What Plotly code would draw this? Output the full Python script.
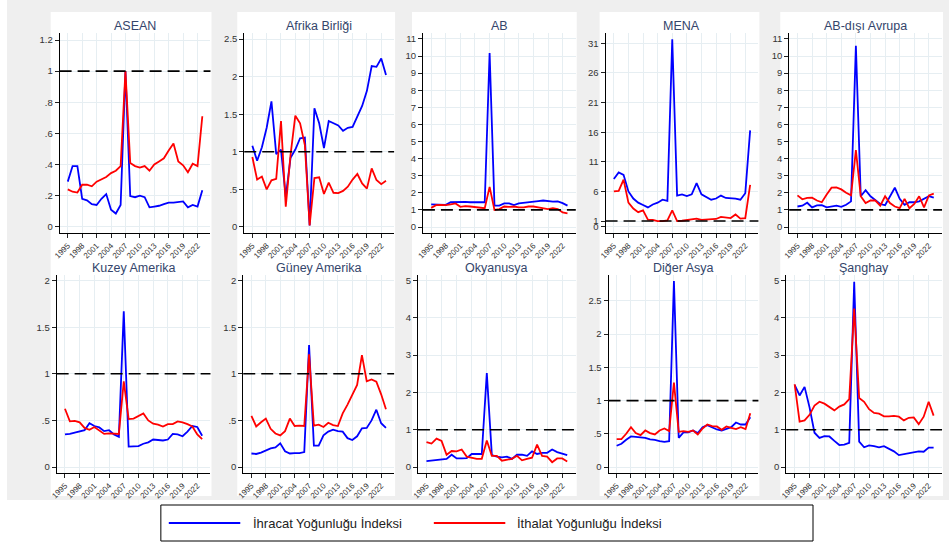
import plotly.graph_objects as go

W, H = 949, 555

years = list(range(1995, 2024))
x_tick_vals = [1995, 1998, 2001, 2004, 2007, 2010, 2013, 2016, 2019, 2022]
x_tick_text = [str(v) for v in x_tick_vals]

regions = ["ASEAN", "Afrika Birliği", "AB", "MENA", "AB-dışı Avrupa",
           "Kuzey Amerika", "Güney Amerika", "Okyanusya", "Diğer Asya", "Şanghay"]

series_names = ["İhracat Yoğunluğu İndeksi", "İthalat Yoğunluğu İndeksi"]

asean_ihracat = [0.29, 0.39, 0.39, 0.18, 0.17, 0.145, 0.14, 0.18, 0.21, 0.11, 0.085, 0.14, 1.0,
                 0.197, 0.19, 0.20, 0.19, 0.125, 0.13, 0.135, 0.145, 0.155, 0.155, 0.16, 0.163,
                 0.125, 0.14, 0.13, 0.235]
asean_ithalat = [0.24, 0.225, 0.22, 0.27, 0.27, 0.26, 0.29, 0.305, 0.32, 0.345, 0.36, 0.39, 1.0,
                 0.41, 0.39, 0.38, 0.39, 0.36, 0.40, 0.42, 0.44, 0.49, 0.535, 0.42, 0.395,
                 0.35, 0.405, 0.39, 0.71]

afrika_ihracat = [1.08, 0.88, 1.06, 1.32, 1.67, 0.97, 1.03, 0.40, 0.92, 1.03, 1.18, 1.19, 0.02,
                  1.58, 1.38, 1.05, 1.41, 1.38, 1.35, 1.28, 1.32, 1.33, 1.47, 1.61, 1.81,
                  2.14, 2.13, 2.24, 2.02]
afrika_ithalat = [0.93, 0.63, 0.67, 0.50, 0.62, 0.64, 1.41, 0.27, 0.96, 1.48, 1.38, 1.09, 0.02,
                  0.65, 0.66, 0.44, 0.59, 0.455, 0.45, 0.48, 0.535, 0.63, 0.705, 0.58, 0.51,
                  0.78, 0.625, 0.57, 0.615]

ab_ihracat = [1.32, 1.30, 1.30, 1.30, 1.45, 1.47, 1.45, 1.47, 1.45, 1.45, 1.45, 1.45, 10.18,
              1.25, 1.25, 1.38, 1.38, 1.28, 1.38, 1.42, 1.47, 1.52, 1.52, 1.55, 1.52,
              1.48, 1.50, 1.40, 1.25]
ab_ithalat = [1.12, 1.28, 1.30, 1.28, 1.33, 1.38, 1.18, 1.22, 1.20, 1.18, 1.15, 1.10, 2.35,
              1.00, 1.05, 1.20, 1.18, 1.20, 1.15, 1.15, 1.20, 1.20, 1.15, 1.10, 1.05,
              1.10, 1.05, 0.85, 0.80]

mena_ihracat = [8.1, 9.2, 8.8, 6.0, 4.8, 4.1, 3.7, 3.3, 3.8, 4.1, 4.6, 4.4, 31.7,
                5.3, 5.5, 5.2, 5.5, 7.4, 5.5, 5.0, 4.6, 4.8, 5.3, 4.9, 4.9,
                4.8, 4.6, 5.7, 16.3]
mena_ithalat = [6.0, 6.1, 8.0, 4.1, 3.1, 2.5, 2.8, 1.25, 1.2, 1.0, 1.0, 1.1, 2.8,
                1.0, 1.05, 1.2, 1.25, 1.4, 1.2, 1.25, 1.3, 1.35, 1.7, 1.6, 1.5,
                2.1, 1.4, 1.5, 7.1]

abdisi_ihracat = [1.20, 1.25, 1.42, 1.15, 1.27, 1.28, 1.15, 1.22, 1.25, 1.18, 1.30, 1.50, 10.6,
                  1.80, 2.15, 1.80, 1.55, 1.35, 1.27, 1.75, 2.30, 1.65, 1.30, 1.45, 1.45,
                  1.50, 1.65, 1.80, 1.72]
abdisi_ithalat = [1.85, 1.62, 1.70, 1.72, 1.55, 1.45, 1.90, 2.30, 2.32, 2.20, 2.00, 1.85, 4.5,
                  1.80, 1.40, 1.55, 1.55, 1.25, 1.80, 1.40, 1.20, 1.10, 1.65, 1.10, 1.35,
                  1.80, 1.15, 1.85, 1.95]

kuzey_ihracat = [0.35, 0.355, 0.37, 0.38, 0.395, 0.47, 0.44, 0.425, 0.385, 0.395, 0.35, 0.325, 1.67,
                 0.22, 0.22, 0.225, 0.25, 0.265, 0.295, 0.29, 0.285, 0.295, 0.355, 0.35, 0.33,
                 0.38, 0.44, 0.43, 0.335]
kuzey_ithalat = [0.625, 0.49, 0.495, 0.48, 0.42, 0.40, 0.43, 0.395, 0.355, 0.36, 0.36, 0.355, 0.92,
                 0.515, 0.52, 0.55, 0.575, 0.50, 0.465, 0.455, 0.435, 0.46, 0.46, 0.49, 0.48,
                 0.46, 0.435, 0.35, 0.30]

guney_ihracat = [0.145, 0.14, 0.155, 0.175, 0.20, 0.21, 0.255, 0.17, 0.145, 0.15, 0.15, 0.16, 1.31,
                 0.23, 0.23, 0.34, 0.38, 0.40, 0.385, 0.38, 0.31, 0.29, 0.33, 0.415, 0.42,
                 0.50, 0.615, 0.47, 0.42]
guney_ithalat = [0.55, 0.435, 0.48, 0.52, 0.41, 0.36, 0.34, 0.385, 0.52, 0.44, 0.445, 0.44, 1.21,
                 0.445, 0.455, 0.43, 0.475, 0.45, 0.44, 0.575, 0.67, 0.77, 0.88, 1.20, 0.92,
                 0.94, 0.915, 0.78, 0.62]

okyanusya_ihracat = [0.16, 0.17, 0.19, 0.20, 0.22, 0.33, 0.23, 0.23, 0.24, 0.35, 0.35, 0.35, 2.52,
                     0.32, 0.28, 0.26, 0.28, 0.22, 0.33, 0.33, 0.30, 0.42, 0.35, 0.38, 0.38,
                     0.47, 0.40, 0.36, 0.32]
okyanusya_ithalat = [0.67, 0.63, 0.76, 0.70, 0.33, 0.43, 0.42, 0.47, 0.28, 0.25, 0.22, 0.22, 0.71,
                     0.30, 0.30, 0.17, 0.20, 0.22, 0.30, 0.18, 0.22, 0.25, 0.60, 0.30, 0.28,
                     0.13, 0.23, 0.23, 0.15]

diger_ihracat = [0.32, 0.35, 0.41, 0.46, 0.455, 0.45, 0.44, 0.415, 0.41, 0.39, 0.38, 0.39, 2.8,
                 0.44, 0.52, 0.52, 0.55, 0.51, 0.60, 0.63, 0.60, 0.565, 0.55, 0.575, 0.60,
                 0.67, 0.64, 0.64, 0.75]
diger_ithalat = [0.42, 0.42, 0.50, 0.60, 0.51, 0.48, 0.55, 0.51, 0.49, 0.55, 0.58, 0.54, 1.27,
                 0.53, 0.54, 0.53, 0.55, 0.49, 0.58, 0.64, 0.615, 0.61, 0.56, 0.61, 0.59,
                 0.57, 0.60, 0.57, 0.81]

sanghay_ihracat = [2.20, 1.92, 2.15, 1.60, 0.92, 0.78, 0.83, 0.82, 0.70, 0.59, 0.60, 0.65, 4.97,
                   0.68, 0.53, 0.58, 0.56, 0.53, 0.56, 0.50, 0.42, 0.32, 0.35, 0.38, 0.40,
                   0.42, 0.41, 0.52, 0.52]
sanghay_ithalat = [2.22, 1.22, 1.25, 1.40, 1.65, 1.75, 1.70, 1.60, 1.52, 1.62, 1.68, 1.82, 4.25,
                   1.85, 1.75, 1.55, 1.45, 1.43, 1.36, 1.36, 1.37, 1.35, 1.25, 1.32, 1.33,
                   1.15, 1.35, 1.75, 1.38]

ihracat_series = [asean_ihracat, afrika_ihracat, ab_ihracat, mena_ihracat, abdisi_ihracat,
                  kuzey_ihracat, guney_ihracat, okyanusya_ihracat, diger_ihracat, sanghay_ihracat]
ithalat_series = [asean_ithalat, afrika_ithalat, ab_ithalat, mena_ithalat, abdisi_ithalat,
                  kuzey_ithalat, guney_ithalat, okyanusya_ithalat, diger_ithalat, sanghay_ithalat]

y_tick_sets = [
    [0, 0.2, 0.4, 0.6, 0.8, 1, 1.2],
    [0, 0.5, 1, 1.5, 2, 2.5],
    list(range(0, 12)),
    [0, 1, 6, 11, 16, 21, 26, 31],
    list(range(0, 12)),
    [0, 0.5, 1, 1.5, 2],
    [0, 0.5, 1, 1.5, 2],
    [0, 1, 2, 3, 4, 5],
    [0, 0.5, 1, 1.5, 2, 2.5],
    [0, 1, 2, 3, 4, 5],
]
reference_level = 1

# ---- layout (positions only) ----
y_ranges = [[-0.04, 1.245], [-0.08, 2.58], [-0.35, 11.35], [-1.02, 32.75], [-0.35, 11.35],
            [-0.064, 2.06], [-0.064, 2.06], [-0.16, 5.15], [-0.09, 2.89], [-0.16, 5.15]]
x_range = [1993.3, 2024.7]
col_px = [(53, 205), (239, 390), (419, 573), (603, 757), (788, 942),
          (50, 205), (238, 390), (414, 573), (606, 757), (785, 942)]
row_px = [(33, 233), (275, 473)]

BLUE = "#0000ff"
RED = "#ff0000"
FONT = "Arial, Liberation Sans, sans-serif"


def stata_label(v):
    if float(v).is_integer():
        return str(int(v))
    s = ("%g" % v)
    return s[1:] if s.startswith("0.") else s


fig = go.Figure()
layout = dict(
    width=W, height=H,
    margin=dict(l=0, r=0, t=0, b=0),
    paper_bgcolor="white",
    plot_bgcolor="rgba(0,0,0,0)",
    showlegend=False,
    font=dict(family=FONT, color="#222222"),
)
shapes = []
annotations = []

# background: grey frame with white column panels
shapes.append(dict(type="rect", xref="paper", yref="paper", x0=0, x1=1,
                   y0=1 - 500 / H, y1=1, fillcolor="#efefef", line=dict(width=0), layer="below"))
for c in range(5):
    lx = min(col_px[c][0], col_px[c + 5][0]) - 6
    rx = max(col_px[c][1], col_px[c + 5][1]) + 1
    shapes.append(dict(type="rect", xref="paper", yref="paper",
                       x0=lx / W, x1=rx / W, y0=1 - 496 / H, y1=1 - 12 / H,
                       fillcolor="white", line=dict(width=0), layer="below"))

for i, name in enumerate(regions):
    row = 0 if i < 5 else 1
    k = "" if i == 0 else str(i + 1)
    xa, ya = "x" + k, "y" + k
    x0p, x1p = col_px[i]
    top, bot = row_px[row]
    layout["xaxis" + k] = dict(
        domain=[x0p / W, x1p / W], anchor=ya, range=x_range,
        tickmode="array", tickvals=x_tick_vals, ticktext=x_tick_text,
        tickangle=-45, tickfont=dict(size=8, color="#333333", family=FONT),
        ticks="outside", ticklen=4, tickcolor="#222222",
        showgrid=True, gridcolor="#e6eef2", gridwidth=1,
        showline=True, linecolor="#000000", linewidth=1, zeroline=False,
    )
    yt = y_tick_sets[i]
    layout["yaxis" + k] = dict(
        domain=[1 - bot / H, 1 - top / H], anchor=xa, range=y_ranges[i],
        tickmode="array", tickvals=yt, ticktext=[stata_label(v) for v in yt],
        tickfont=dict(size=9.5, color="#333333", family=FONT),
        ticks="outside", ticklen=4, tickcolor="#222222",
        showgrid=True, gridcolor="#e6eef2", gridwidth=1,
        showline=True, linecolor="#000000", linewidth=1, zeroline=False,
    )
    fig.add_trace(go.Scatter(x=years, y=ihracat_series[i], mode="lines", name=series_names[0],
                             line=dict(color=BLUE, width=1.8), xaxis=xa, yaxis=ya))
    fig.add_trace(go.Scatter(x=years, y=ithalat_series[i], mode="lines", name=series_names[1],
                             line=dict(color=RED, width=1.8), xaxis=xa, yaxis=ya))
    shapes.append(dict(type="line", xref=xa + " domain", yref=ya, x0=0, x1=1,
                       y0=reference_level, y1=reference_level,
                       line=dict(color="#000000", width=1.6, dash="12px,6px"), layer="above"))
    title_y = 26 if row == 0 else 268
    annotations.append(dict(text=name, xref="paper", yref="paper",
                            x=(x0p + x1p) / 2 / W, y=1 - title_y / H,
                            showarrow=False, xanchor="center", yanchor="middle",
                            font=dict(size=12.5, color="#34456b", family=FONT)))

# legend box
lg_top, lg_bot = 505, 541
shapes.append(dict(type="rect", xref="paper", yref="paper",
                   x0=155 / W, x1=812 / W, y0=1 - lg_bot / H, y1=1 - lg_top / H,
                   fillcolor="white", line=dict(color="#000000", width=1)))
lg_mid = 1 - 523 / H
for (lx0, lx1, tx, col, txt) in [(163, 235, 246, BLUE, series_names[0]),
                                 (430, 502, 512, RED, series_names[1])]:
    shapes.append(dict(type="line", xref="paper", yref="paper", x0=lx0 / W, x1=lx1 / W,
                       y0=lg_mid, y1=lg_mid, line=dict(color=col, width=2)))
    annotations.append(dict(text=txt, xref="paper", yref="paper", x=tx / W, y=lg_mid,
                            showarrow=False, xanchor="left", yanchor="middle",
                            font=dict(size=13, color="#222222", family=FONT)))

layout["shapes"] = shapes
layout["annotations"] = annotations
fig.update_layout(**layout)
fig.write_html("out.html", config={"displayModeBar": False},
               post_script="document.body.style.margin='0';document.body.style.overflow='hidden';")
